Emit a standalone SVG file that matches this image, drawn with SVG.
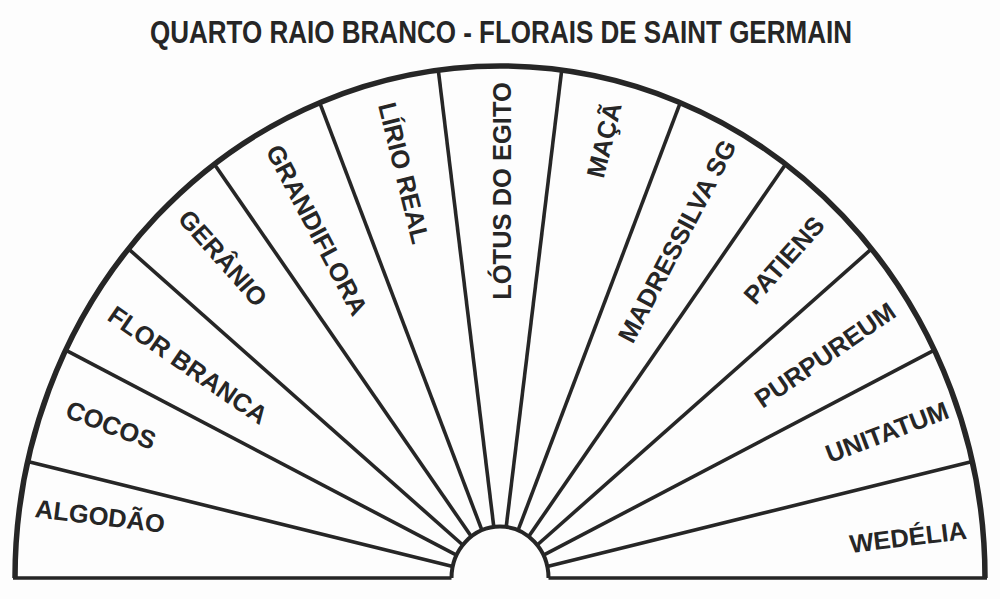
<svg xmlns="http://www.w3.org/2000/svg" width="1000" height="599" viewBox="0 0 1000 599">
  <style>
    .bg { fill: #fdfdfd; }
    .title { font-family: "Liberation Sans", Arial, sans-serif; font-weight: bold; font-size: 31px; fill: #262626; }
    .lbl { font-family: "Liberation Sans", Arial, sans-serif; font-weight: bold; font-size: 25.5px; fill: #262626; text-anchor: middle; }
    .outer { fill: none; stroke: #262626; stroke-width: 5.5; }
    .inner { fill: none; stroke: #262626; stroke-width: 4; }
    .base { fill: none; stroke: #262626; stroke-width: 3.5; }
    .spoke { fill: none; stroke: #262626; stroke-width: 3.6; stroke-linecap: butt; }
  </style>
  <rect class="bg" x="0" y="0" width="1000" height="599"/>
  <text id="title" class="title" x="150" y="43" textLength="702" lengthAdjust="spacingAndGlyphs">QUARTO RAIO BRANCO - FLORAIS DE SAINT GERMAIN</text>

  <g id="connectors">
    <path class="spoke" d="M452.8 566.4 L27.7 461.6"/>
    <path class="spoke" d="M456.5 555.2 L65.7 350.1"/>
    <path class="spoke" d="M462.8 545.0 L128.5 248.9"/>
    <path class="spoke" d="M471.3 536.5 L214.4 164.2"/>
    <path class="spoke" d="M481.9 530.2 L319.7 102.7"/>
    <path class="spoke" d="M493.8 526.9 L438.3 70.1"/>
    <path class="spoke" d="M506.2 526.9 L561.7 70.1"/>
    <path class="spoke" d="M518.1 530.2 L680.3 102.7"/>
    <path class="spoke" d="M528.7 536.5 L785.6 164.2"/>
    <path class="spoke" d="M537.2 545.0 L871.5 248.9"/>
    <path class="spoke" d="M543.5 555.2 L934.3 350.1"/>
    <path class="spoke" d="M547.2 566.4 L972.3 461.6"/>
  </g>

  <g id="frame">
    <path class="outer" d="M15 578 A485 512 0 0 1 985 578"/>
    <path class="inner" d="M451.5 578 A48.5 51.5 0 0 1 548.5 578"/>
    <path class="base" d="M13 578 H451.5 M548.5 578 H987"/>
  </g>

  <g id="algodao"><text class="lbl" transform="translate(100,516) rotate(6.92)" y="9">ALGODÃO</text></g>
  <g id="cocos"><text class="lbl" transform="translate(111,425) rotate(20.77)" y="9">COCOS</text></g>
  <g id="flor-branca"><text class="lbl" transform="translate(188,365) rotate(34.62)" y="9">FLOR BRANCA</text></g>
  <g id="geranio"><text class="lbl" transform="translate(223,258) rotate(48.46)" y="9">GERÂNIO</text></g>
  <g id="grandiflora"><text class="lbl" transform="translate(317,230) rotate(62.31)" y="9">GRANDIFLORA</text></g>
  <g id="lirio-real"><text class="lbl" transform="translate(404,173) rotate(76.15)" y="9">LÍRIO REAL</text></g>
  <g id="lotus-do-egito"><text class="lbl" transform="translate(502,191) rotate(-90)" y="9">LÓTUS DO EGITO</text></g>
  <g id="maca"><text class="lbl" transform="translate(604,140) rotate(-76.15)" y="9">MAÇÃ</text></g>
  <g id="madressilva-sg"><text class="lbl" transform="translate(677,241) rotate(-62.31)" y="9">MADRESSILVA SG</text></g>
  <g id="patiens"><text class="lbl" transform="translate(784,260) rotate(-48.46)" y="9">PATIENS</text></g>
  <g id="purpureum"><text class="lbl" transform="translate(825,355) rotate(-34.62)" y="9">PURPUREUM</text></g>
  <g id="unitatum"><text class="lbl" transform="translate(887,432) rotate(-20.77)" y="9">UNITATUM</text></g>
  <g id="wedelia"><text class="lbl" transform="translate(908,537) rotate(-6.92)" y="9">WEDÉLIA</text></g>
</svg>
